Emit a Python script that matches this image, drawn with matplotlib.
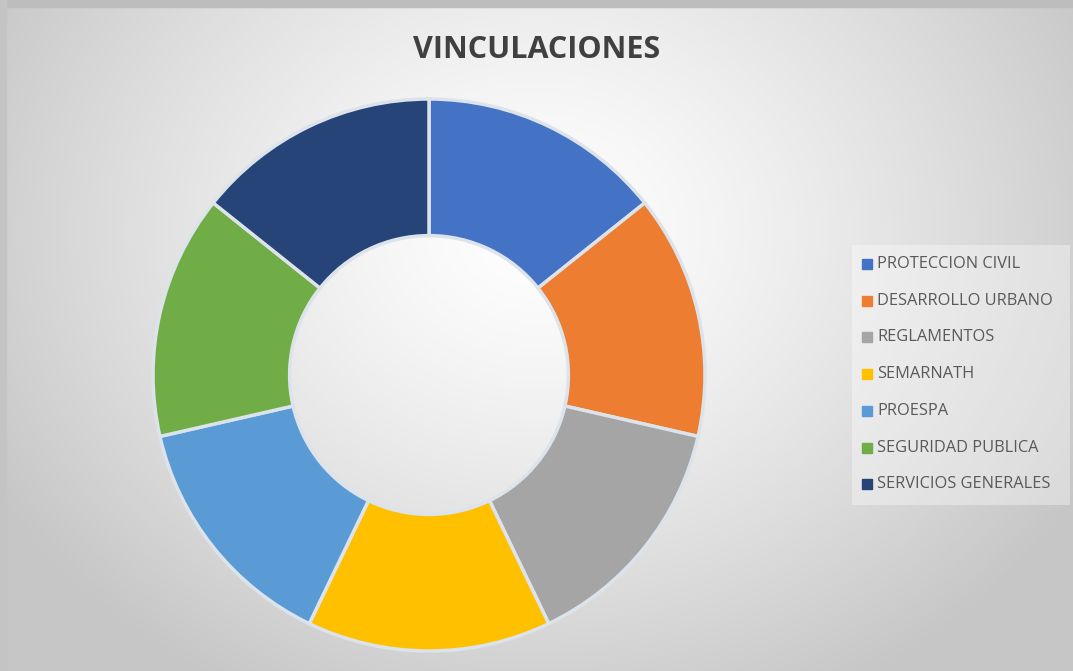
import numpy as np
import matplotlib
matplotlib.use("Agg")
import matplotlib.pyplot as plt

categorias = ["PROTECCION CIVIL", "DESARROLLO URBANO", "REGLAMENTOS", "SEMARNATH",
              "PROESPA", "SEGURIDAD PUBLICA", "SERVICIOS GENERALES"]
valores = [1, 1, 1, 1, 1, 1, 1]
colores = ["#4472C4", "#ED7D31", "#A5A5A5", "#FFC000", "#5B9BD5", "#70AD47", "#264478"]

W, H = 1073, 671
fig = plt.figure(figsize=(W / 100, H / 100), dpi=100)

# fondo con degradado radial
bg = fig.add_axes([0, 0, 1, 1])
yy, xx = np.mgrid[0:H, 0:W]
d = np.sqrt(((xx - 537) / 620.0) ** 2 + ((yy - 230) / 520.0) ** 2)
g = np.clip(1.0 - 0.22 * d ** 1.3, 0.78, 1.0)
bg.imshow(np.dstack([g, g, g]), extent=[0, W, H, 0], aspect="auto")
# marco gris arriba e izquierda
bg.add_patch(plt.Rectangle((0, 0), W, 7, color="#bdbdbd"))
bg.add_patch(plt.Rectangle((0, 0), 6, H, color="#c4c4c4"))
bg.set_xlim(0, W)
bg.set_ylim(H, 0)
bg.axis("off")

# dona
cx, cy, r = 429, 375, 276
ax = fig.add_axes([(cx - r) / W, 1 - (cy + r) / H, 2 * r / W, 2 * r / H])
ax.pie(valores, colors=colores, startangle=90, counterclock=False, radius=1.0,
       wedgeprops=dict(width=0.495, edgecolor="#dde3ea", linewidth=2.5))
ax.set_xlim(-1, 1)
ax.set_ylim(-1, 1)
ax.set_aspect("equal")
ax.axis("off")

fig.text(537 / W, 1 - 50 / H, "VINCULACIONES", ha="center", va="center",
         fontsize=22, fontweight="bold", color="#404040", family="Open Sans")

# leyenda
bg.add_patch(plt.Rectangle((852, 245), 218, 260, facecolor="white", alpha=0.35,
                           edgecolor="none"))
y0, paso = 264, 36.7
for i, (cat, col) in enumerate(zip(categorias, colores)):
    y = y0 + i * paso
    bg.add_patch(plt.Rectangle((862, y - 5), 10, 10, color=col))
    bg.text(877, y, cat, va="center", ha="left", fontsize=11.8, color="#595959",
            family="Open Sans")

fig.savefig("out.png", dpi=100)
